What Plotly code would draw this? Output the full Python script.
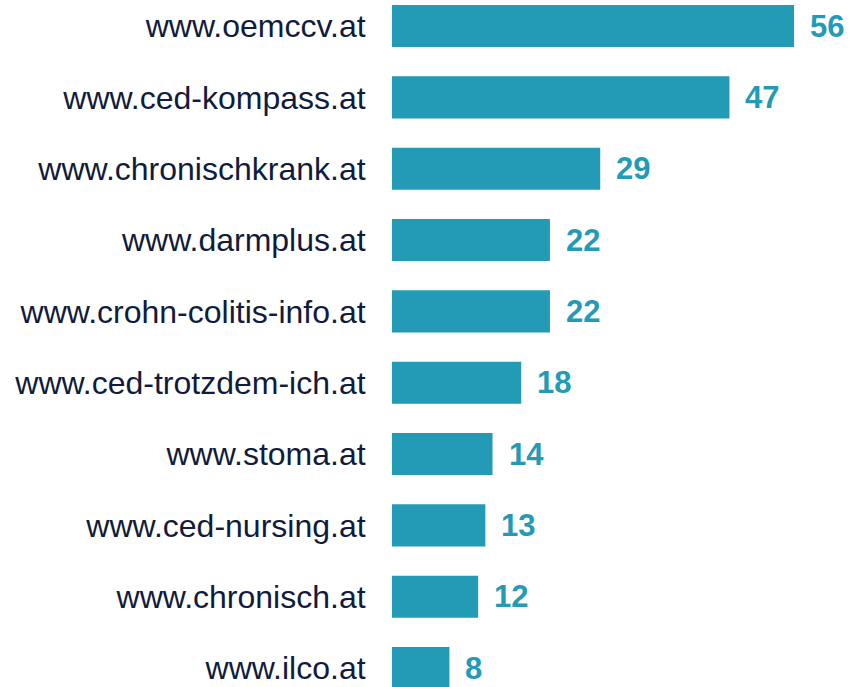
import plotly.graph_objects as go

sites = ["www.oemccv.at", "www.ced-kompass.at", "www.chronischkrank.at", "www.darmplus.at",
         "www.crohn-colitis-info.at", "www.ced-trotzdem-ich.at", "www.stoma.at",
         "www.ced-nursing.at", "www.chronisch.at", "www.ilco.at"]
counts = [56, 47, 29, 22, 22, 18, 14, 13, 12, 8]

BAR = "#239BB6"
LABEL = "#111B3B"

fig = go.Figure(go.Bar(
    x=counts, y=sites, orientation="h",
    marker=dict(color=BAR, line=dict(width=0)),
    width=0.59, hoverinfo="skip",
))

for s, c in zip(sites, counts):
    fig.add_annotation(x=c, y=s, text=f"<b>{c}</b>", showarrow=False,
                       xanchor="left", yanchor="middle", xshift=14,
                       font=dict(family="Liberation Sans, Arial", size=31, color=BAR))

fig.update_layout(
    width=850, height=687,
    margin=dict(l=392, r=0, t=0, b=0),
    paper_bgcolor="white", plot_bgcolor="white",
    showlegend=False,
    xaxis=dict(range=[0, (850 - 392) / 7.18], visible=False),
    yaxis=dict(type="category", categoryorder="array", categoryarray=sites,
               range=[9.266, -0.3645], showgrid=False, zeroline=False, showline=False,
               ticks="outside", ticklen=0, tickcolor="rgba(0,0,0,0)",
               ticklabelstandoff=19,
               tickfont=dict(family="Liberation Sans, Arial", size=32, color=LABEL)),
)

fig.write_html("out.html", config={"displayModeBar": False},
               post_script="document.body.style.margin='0';document.body.style.overflow='hidden';")
